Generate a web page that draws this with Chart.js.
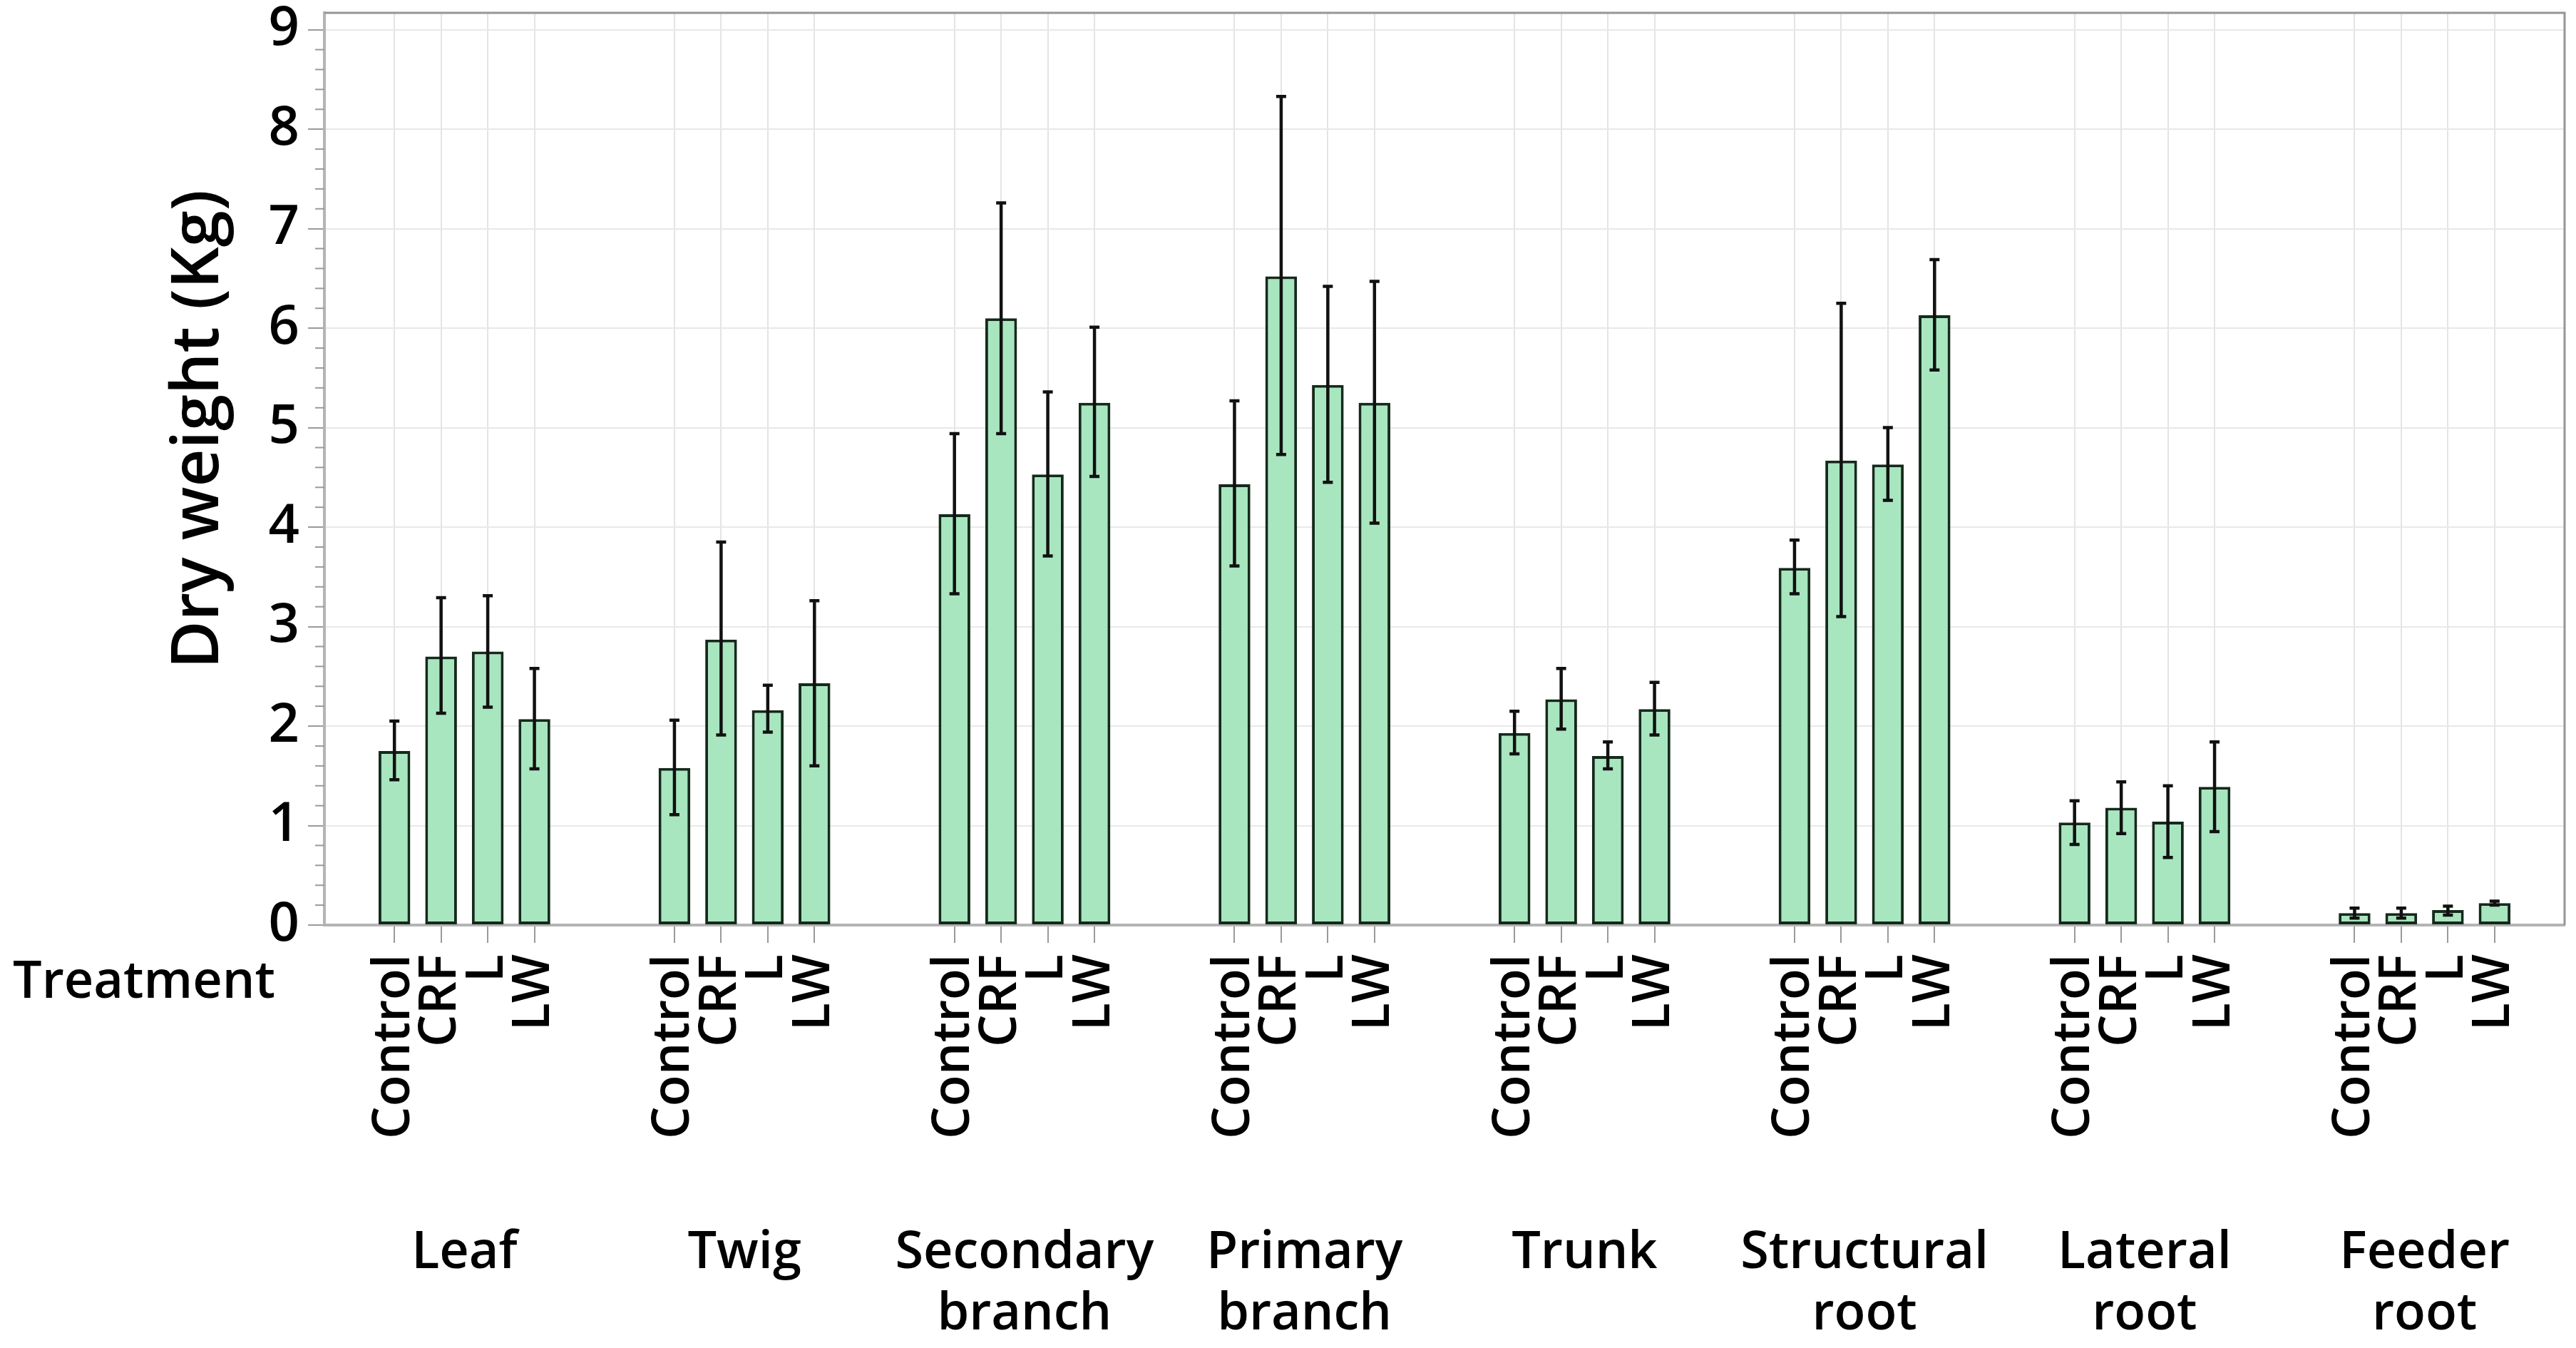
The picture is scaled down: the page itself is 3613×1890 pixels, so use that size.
<!DOCTYPE html>
<html lang="en">
<head>
  <meta charset="UTF-8">
  <title>Dry weight by organ and treatment</title>
  <script src="https://cdn.jsdelivr.net/npm/chart.js"></script>
  <style>
    html, body { margin: 0; padding: 0; background: #fff; }
    #wrap { width: 3613px; height: 1890px; position: relative; }
  </style>
</head>
<body>
  <div id="wrap"><canvas id="myChart"></canvas></div>

  <script>
    // organ groups (multi-line labels) and treatments inside each group
    const organs = [['Leaf'], ['Twig'], ['Secondary', 'branch'], ['Primary', 'branch'],
                    ['Trunk'], ['Structural', 'root'], ['Lateral', 'root'], ['Feeder', 'root']];
    const treatments = ['Control', 'CRF', 'L', 'LW'];

    // mean dry weight (Kg), one value per organ
    const meanControl = [1.75, 1.58, 4.13, 4.43, 1.93, 3.59, 1.03, 0.12];
    const meanCRF     = [2.70, 2.87, 6.10, 6.52, 2.27, 4.67, 1.18, 0.12];
    const meanL       = [2.75, 2.16, 4.53, 5.43, 1.70, 4.63, 1.04, 0.15];
    const meanLW      = [2.07, 2.43, 5.25, 5.25, 2.17, 6.13, 1.39, 0.22];

    // error bar ends
    const highControl = [2.05, 2.06, 4.94, 5.27, 2.15, 3.87, 1.25, 0.17];
    const lowControl  = [1.46, 1.11, 3.33, 3.61, 1.72, 3.33, 0.81, 0.07];
    const highCRF     = [3.29, 3.85, 7.26, 8.33, 2.58, 6.25, 1.44, 0.17];
    const lowCRF      = [2.13, 1.91, 4.94, 4.73, 1.97, 3.10, 0.92, 0.07];
    const highL       = [3.31, 2.41, 5.36, 6.42, 1.84, 5.00, 1.40, 0.19];
    const lowL        = [2.19, 1.94, 3.71, 4.45, 1.57, 4.27, 0.68, 0.10];
    const highLW      = [2.58, 3.26, 6.01, 6.47, 2.44, 6.69, 1.84, 0.24];
    const lowLW       = [1.57, 1.60, 4.51, 4.04, 1.91, 5.58, 0.94, 0.20];

    const yTicks = [0, 1, 2, 3, 4, 5, 6, 7, 8, 9];

    const means = [meanControl, meanCRF, meanL, meanLW];
    const highs = [highControl, highCRF, highL, highLW];
    const lows = [lowControl, lowCRF, lowL, lowLW];

    // one empty slot either side of every group of four bars
    const labels = [], values = [], errHigh = [], errLow = [];
    organs.forEach((o, i) => {
      labels.push(''); values.push(null); errHigh.push(null); errLow.push(null);
      treatments.forEach((t, j) => {
        labels.push(t);
        values.push(means[j][i]);
        errHigh.push(highs[j][i]);
        errLow.push(lows[j][i]);
      });
      labels.push(''); values.push(null); errHigh.push(null); errLow.push(null);
    });

    const FONT = '"Open Sans", "Noto Sans", sans-serif';
    Chart.defaults.font.family = FONT;
    Chart.defaults.color = '#000';

    const extras = {
      id: 'extras',
      beforeDatasetsDraw(chart) {
        const {ctx, chartArea, scales} = chart;
        // minor ticks on the y axis
        ctx.save();
        ctx.strokeStyle = '#9a9a9a';
        ctx.lineWidth = 2;
        for (let k = 1; k < 46; k++) {
          if (k % 5 === 0) continue;
          const py = scales.y.getPixelForValue(k / 5);
          ctx.beginPath();
          ctx.moveTo(chartArea.left - 13, py);
          ctx.lineTo(chartArea.left, py);
          ctx.stroke();
        }
        ctx.restore();
      },
      afterDatasetsDraw(chart) {
        const {ctx, scales} = chart;
        const meta = chart.getDatasetMeta(0);
        ctx.save();
        ctx.strokeStyle = '#111';
        ctx.lineWidth = 4.5;
        meta.data.forEach((bar, i) => {
          if (values[i] === null) return;
          const yh = scales.y.getPixelForValue(errHigh[i]);
          const yl = scales.y.getPixelForValue(errLow[i]);
          ctx.beginPath();
          ctx.moveTo(bar.x, yh); ctx.lineTo(bar.x, yl);
          ctx.moveTo(bar.x - 7, yh); ctx.lineTo(bar.x + 7, yh);
          ctx.moveTo(bar.x - 7, yl); ctx.lineTo(bar.x + 7, yl);
          ctx.stroke();
        });
        ctx.restore();
      },
      afterDraw(chart) {
        const {ctx, chartArea} = chart;
        ctx.save();
        // frame, top and right
        ctx.strokeStyle = '#969696';
        ctx.lineWidth = 3;
        ctx.beginPath();
        ctx.moveTo(chartArea.left, chartArea.top);
        ctx.lineTo(chartArea.right, chartArea.top);
        ctx.lineTo(chartArea.right, chartArea.bottom);
        ctx.stroke();
        // y title
        ctx.fillStyle = '#000';
        ctx.font = '600 92px ' + FONT;
        ctx.textAlign = 'center';
        ctx.textBaseline = 'alphabetic';
        ctx.translate(306, 602);
        ctx.rotate(-Math.PI / 2);
        ctx.fillText('Dry weight (Kg)', 0, 0);
        ctx.restore();
        // row header for the treatment labels
        ctx.save();
        ctx.fillStyle = '#000';
        ctx.font = '600 72px ' + FONT;
        ctx.textAlign = 'left';
        ctx.textBaseline = 'alphabetic';
        ctx.fillText('Treatment', 18, chartArea.bottom + 102);
        ctx.restore();
      }
    };

    const ctx = document.getElementById('myChart');

    new Chart(ctx, {
      type: 'bar',
      data: {
        labels: labels,
        datasets: [{
          data: values,
          backgroundColor: '#a8e6bf',
          borderColor: '#142a1b',
          borderWidth: 4,
          borderSkipped: false,
          barPercentage: 0.68,
          categoryPercentage: 1.0
        }]
      },
      options: {
        responsive: true,
        maintainAspectRatio: false,
        devicePixelRatio: 1,
        animation: false,
        layout: { padding: { top: 18, right: 16, left: 0, bottom: 0 } },
        plugins: {
          legend: { display: false },
          tooltip: { enabled: false }
        },
        scales: {
          x: {
            type: 'category',
            weight: 0,
            offset: true,
            grid: {
              offset: false,
              lineWidth: 2,
              color: c => (c.tick && c.tick.label) ? '#e4e4e4' : 'rgba(0,0,0,0)',
              tickColor: c => (c.tick && c.tick.label) ? '#9a9a9a' : 'rgba(0,0,0,0)',
              tickLength: 25,
              tickWidth: 2
            },
            border: { display: true, color: '#b4b4b4', width: 4 },
            ticks: {
              autoSkip: false,
              minRotation: 90,
              maxRotation: 90,
              padding: 16,
              font: { size: 72, weight: 600 },
              color: '#000'
            },
            afterFit(scale) {
              scale.height = 400;
              scale.paddingLeft = 0;
              scale.paddingRight = 0;
            }
          },
          x2: {
            type: 'category',
            labels: organs,
            position: 'bottom',
            weight: 1,
            offset: true,
            grid: { display: false, drawTicks: false },
            border: { display: false },
            ticks: {
              autoSkip: false,
              minRotation: 0,
              maxRotation: 0,
              padding: 17,
              font: { size: 72, weight: 600, lineHeight: 1.2 },
              color: '#000'
            },
            afterFit(scale) {
              scale.height = 193;
              scale.paddingLeft = 0;
              scale.paddingRight = 0;
            }
          },
          y: {
            min: 0,
            max: 9.17,
            grid: {
              color: '#e8e8e8',
              lineWidth: 2,
              tickColor: '#9a9a9a',
              tickLength: 23,
              tickWidth: 2
            },
            border: { display: true, color: '#b4b4b4', width: 4 },
            afterBuildTicks(scale) { scale.ticks = yTicks.map(v => ({value: v})); },
            ticks: {
              padding: 12,
              font: { size: 76, weight: 600 },
              color: '#000'
            },
            afterFit(scale) {
              scale.width = 455;
              scale.paddingTop = 0;
              scale.paddingBottom = 0;
            }
          }
        }
      },
      plugins: [extras]
    });
  </script>
</body>
</html>
